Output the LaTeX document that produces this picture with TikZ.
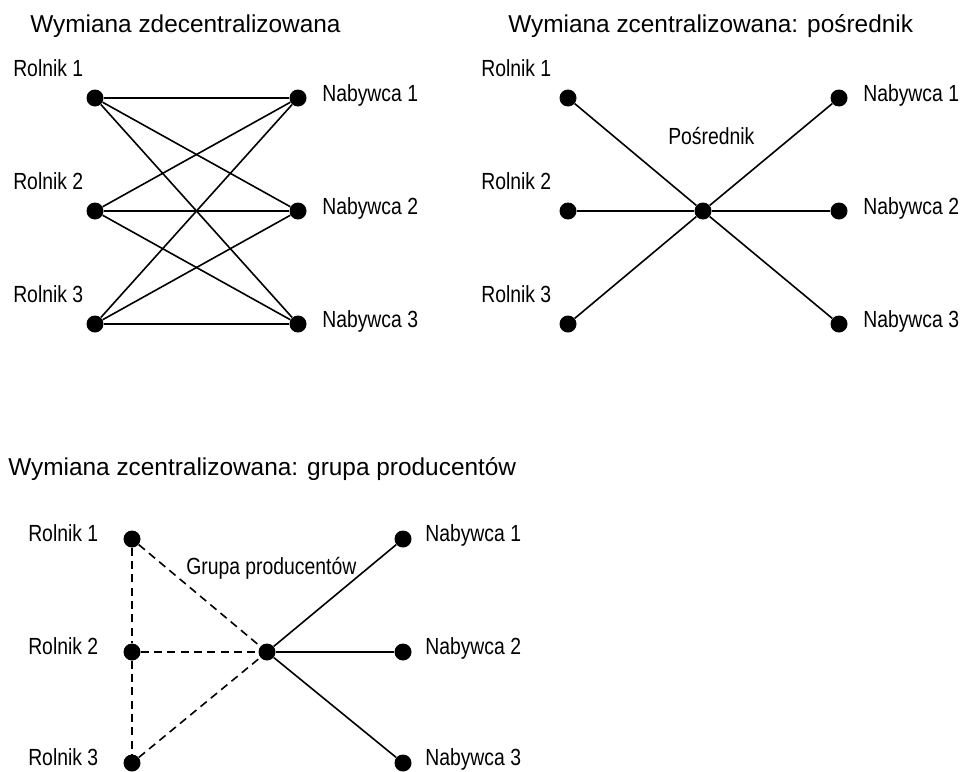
\documentclass[tikz,border=0pt]{standalone}
\usepackage{fontspec}
\setmainfont{Liberation Sans}
\newfontfamily\narrowfont{Liberation Sans}[FakeStretch=0.83]
\begin{document}
\begin{tikzpicture}[x=0.75pt,y=-0.75pt,
  dot/.style={circle,fill=black,draw=none,inner sep=0pt,minimum size=12.75pt},
  lbl/.style={anchor=base west,inner sep=0pt,font=\narrowfont\fontsize{17.5}{20}\selectfont},
  ttl/.style={anchor=base west,inner sep=0pt,font=\fontsize{18.3}{21}\selectfont},
  link/.style={line width=1.2pt},
  dlink/.style={line width=1.2pt,dash pattern=on 6pt off 4pt}]
\useasboundingbox (0,0) rectangle (966,771);
% titles
\node[ttl] (t1) at (30,32) {Wymiana zdecentralizowana};
\node[ttl] (t2) at (508,32) {Wymiana zcentralizowana: pośrednik};
\node[ttl] (t3) at (8,475) {Wymiana zcentralizowana: grupa producentów};
% panel 1
\foreach \i/\y in {1/98,2/211,3/324}{
  \node[dot] (a\i) at (95,\y) {};
  \node[dot] (b\i) at (298,\y) {};
  \node[lbl] (ra\i) at (13,\y-22) {Rolnik \i};
  \node[lbl] (nb\i) at (322,\y+3) {Nabywca \i};
}
\foreach \i in {1,2,3}{\foreach \j in {1,2,3}{\draw[link] (a\i) -- (b\j);}}
% panel 2
\node[dot] (c) at (703,211) {};
\node[lbl] (pc) at (668,144) {Pośrednik};
\foreach \i/\y in {1/98,2/211,3/324}{
  \node[dot] (p\i) at (568,\y) {};
  \node[dot] (q\i) at (839,\y) {};
  \node[lbl] (rp\i) at (481,\y-22) {Rolnik \i};
  \node[lbl] (nq\i) at (863,\y+3) {Nabywca \i};
  \draw[link] (p\i) -- (c);
  \draw[link] (c) -- (q\i);
}
% panel 3
\node[dot] (g) at (267,652) {};
\node[lbl] (pg) at (186,574) {Grupa producentów};
\foreach \i/\y in {1/539,2/652,3/763}{
  \node[dot] (r\i) at (132,\y) {};
  \node[dot] (s\i) at (403,\y) {};
  \node[lbl] (rr\i) at (28,\y+2) {Rolnik \i};
  \node[lbl] (ns\i) at (425,\y+2) {Nabywca \i};
  \draw[dlink] (r\i) -- (g);
  \draw[link] (g) -- (s\i);
}
\draw[dlink] (r1) -- (r2);
\draw[dlink] (r2) -- (r3);
\end{tikzpicture}
\end{document}
